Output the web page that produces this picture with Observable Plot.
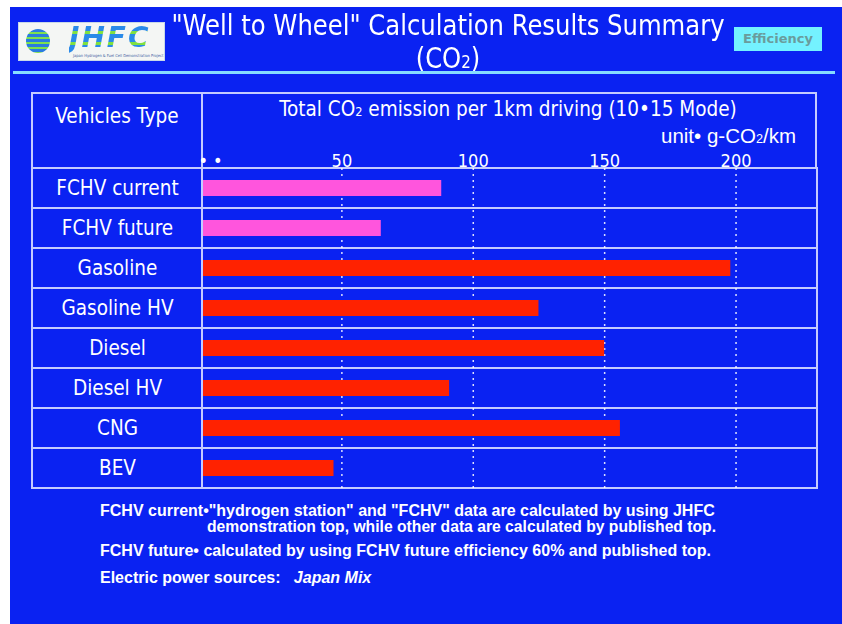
<!DOCTYPE html>
<html>
<head>
<meta charset="utf-8">
<script src="https://cdn.jsdelivr.net/npm/d3@7"></script>
<script src="https://cdn.jsdelivr.net/npm/@observablehq/plot@0.6"></script>
<style>
  html, body { margin: 0; padding: 0; background: #ffffff; }
  body { width: 842px; height: 624px; position: relative; overflow: hidden; font-family: "DejaVu Sans Condensed", "DejaVu Sans", sans-serif; }
  #bg { position: absolute; left: 10px; top: 7px; width: 832px; height: 617px; background: #0a22f2; }
  .abs { position: absolute; color: #ffffff; white-space: nowrap; }
  #title { left: 0; width: 896px; text-align: center; top: 9px; font-size: 28px; line-height: 33px; transform: scaleX(0.965); transform-origin: 448px 0; }
  #title sub, .hdr sub { font-size: 62%; vertical-align: baseline; }
  #logo { position: absolute; left: 18px; top: 22px; width: 147px; height: 39px; background: #f4f6f4; border: 1px solid #c8d8e8; box-sizing: border-box; overflow: hidden; }
  #globe { position: absolute; left: 7px; top: 6px; width: 24px; height: 24px; border-radius: 50%;
    background: repeating-linear-gradient(180deg, #2a7ce0 0px, #2a7ce0 3px, #7ce050 3px, #7ce050 5px); }
  #logotext { position: absolute; left: 50px; top: 0px; font-family: "DejaVu Sans", sans-serif; font-weight: 900; font-style: italic; font-size: 28px; line-height: 30px; letter-spacing: 2px;
    background: repeating-linear-gradient(180deg, #2a8ae8 0px, #2a8ae8 8px, #80e040 8px, #80e040 11px); -webkit-background-clip: text; background-clip: text; color: transparent; }
  #logosmall { position: absolute; left: 54px; top: 30px; font-size: 4px; line-height: 5px; color: #4060a0; }
  #eff { position: absolute; left: 734px; top: 27px; width: 88px; height: 24px; background: #74f2ff; color: #6a9c9c; font-family: "DejaVu Sans", sans-serif; font-weight: bold; font-size: 13px; line-height: 24px; text-align: center; }
  #cyanline { position: absolute; left: 13px; top: 71px; width: 822px; height: 3px; background: #86dcff; }
  #hdrbox { position: absolute; left: 31px; top: 92px; width: 786px; height: 77px; border: 2px solid #c4ccff; border-bottom: none; box-sizing: border-box; }
  #coldiv { position: absolute; left: 201px; top: 92px; width: 2px; height: 397px; background: #c4ccff; }
  .hdr { position: absolute; color: #ffffff; white-space: nowrap; font-size: 20.5px; line-height: 22px; }
  #plotwrap { position: absolute; left: 0; top: 0; }
  .note { position: absolute; color: #ffffff; white-space: nowrap; font-family: "Liberation Sans Narrow", "Liberation Sans", sans-serif; font-weight: bold; font-size: 16px; line-height: 18px; }
</style>
</head>
<body>
<div id="bg"></div>
<div id="logo"><div id="globe"></div><div id="logotext">JHFC</div><div id="logosmall">Japan Hydrogen &amp; Fuel Cell Demonstration Project</div></div>
<div class="abs" id="title">"Well to Wheel" Calculation Results Summary<br>(CO<sub>2</sub>)</div>
<div id="eff">Efficiency</div>
<div id="cyanline"></div>
<div id="hdrbox"></div>
<div id="coldiv"></div>
<div class="hdr" style="left:32px;width:170px;text-align:center;top:105px;">Vehicles Type</div>
<div class="hdr" style="left:199px;width:618px;text-align:center;top:98px;">Total CO<sub>2</sub> emission per 1km driving (10•15 Mode)</div>
<div class="hdr" style="left:600px;width:196px;text-align:right;top:125px;font-size:20.5px;font-family:'Liberation Sans',sans-serif;">unit• g-CO<sub>2</sub>/km</div>
<div id="plotwrap"></div>
<div class="note" style="left:100px;top:502px;">FCHV current•"hydrogen station" and "FCHV" data are calculated by using JHFC</div>
<div class="note" style="left:207px;top:518px;font-size:15.7px;">demonstration top, while other data are calculated by published top.</div>
<div class="note" style="left:100px;top:542px;">FCHV future• calculated by using FCHV future efficiency 60% and published top.</div>
<div class="note" style="left:100px;top:569px;">Electric power sources:&nbsp;&nbsp;&nbsp;<i>Japan Mix</i></div>
<script>
// Data
const vehicleTypes = ["FCHV current", "FCHV future", "Gasoline", "Gasoline HV", "Diesel", "Diesel HV", "CNG", "BEV"];
const co2Values = [88, 65, 198, 125, 150, 91, 156, 47];
const vehicleGroup = ["FCHV", "FCHV", "Other", "Other", "Other", "Other", "Other", "Other"];
const tickValues = [0, 50, 100, 150, 200];
const tickLabels = ["• •", "50", "100", "150", "200"];

const rows = vehicleTypes.map((t, i) => ({type: t, value: co2Values[i], group: vehicleGroup[i]}));
const lineColor = "#c4ccff";

const chart = Plot.plot({
  width: 842,
  height: 624,
  marginLeft: 210,
  marginRight: 25,
  marginTop: 168,
  marginBottom: 136,
  style: {background: "transparent", color: "#ffffff", fontFamily: "'DejaVu Sans Condensed', 'DejaVu Sans', sans-serif", overflow: "visible"},
  x: {domain: [0, 231]},
  y: {domain: vehicleTypes, padding: 0},
  color: {domain: ["FCHV", "Other"], range: ["#ff55dd", "#ff2200"]},
  marks: [
    Plot.cell(rows, {y: "type", fill: "none", stroke: lineColor, strokeWidth: 2, insetLeft: -178}),
    Plot.gridX([50, 100, 150, 200], {stroke: "#ffffff", strokeOpacity: 0.85, strokeWidth: 1.5, strokeDasharray: "2,4"}),
    Plot.barX(rows, {y: "type", x: "value", fill: "group", insetTop: 12, insetBottom: 12, insetLeft: -7}),
    Plot.axisX({anchor: "top", ticks: tickValues, tickFormat: (d) => tickLabels[tickValues.indexOf(d)], tickSize: 0, tickPadding: 2, fontSize: 18, fill: "#ffffff", label: null}),
    Plot.axisY({anchor: "left", tickSize: 0, tickPadding: 93, textAnchor: "middle", fontSize: 20.5, fill: "#ffffff", label: null})
  ]
});
document.getElementById("plotwrap").appendChild(chart);
</script>
</body>
</html>
